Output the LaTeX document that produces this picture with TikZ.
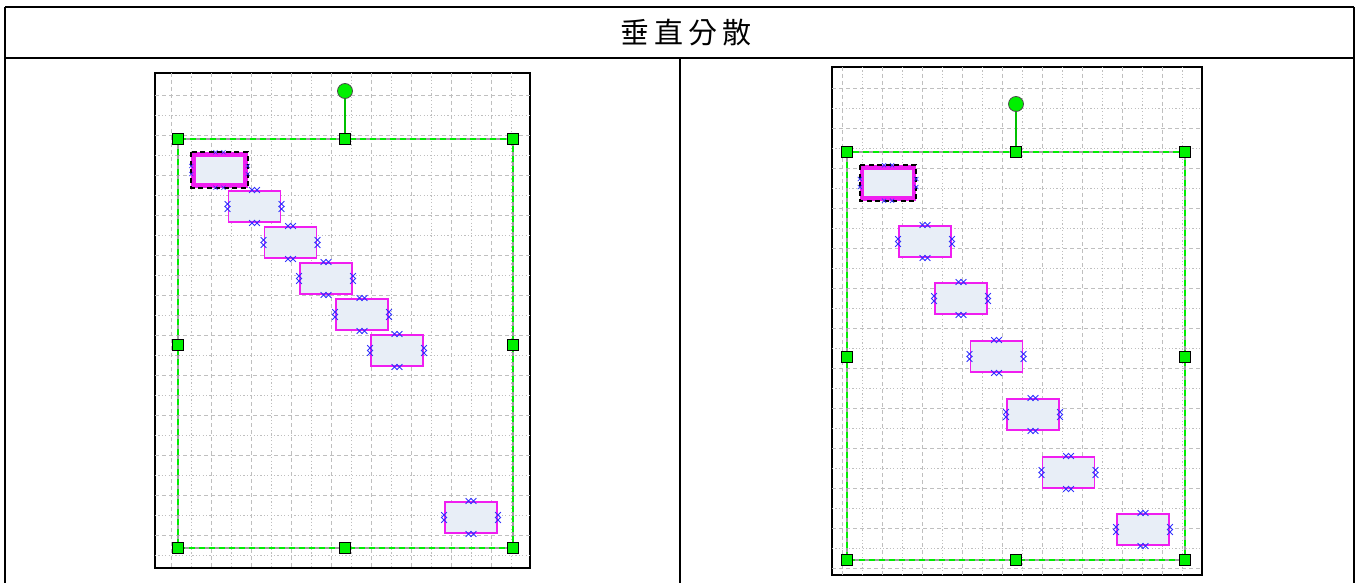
\documentclass[tikz,border=0pt]{standalone}
\usepackage{fontspec}
\newfontfamily\cjk[LetterSpace=18]{Noto Sans CJK TC}
\usetikzlibrary{shapes.misc}
\definecolor{hgreen}{RGB}{0,240,0}
\definecolor{mag}{RGB}{240,30,240}
\definecolor{shfill}{RGB}{232,238,247}
\definecolor{cpblue}{RGB}{50,50,255}
\tikzset{
  frame/.style={line width=2pt, draw=black},
  imgframe/.style={line width=1.6pt, draw=black, fill=white},
  gdash/.style={draw=gray!50, line width=0.9pt, dash pattern=on 4pt off 3pt},
  gdot/.style={draw=gray!50, line width=0.9pt, dash pattern=on 1.2pt off 2.2pt},
  selgray/.style={draw=gray!75, line width=1.2pt},
  selgreen/.style={draw=hgreen, line width=1.2pt, dash pattern=on 6pt off 4pt},
  rotline/.style={draw=hgreen!80!black, line width=1.3pt},
  handle/.style={draw=black, fill=hgreen, line width=1.1pt, minimum size=11pt, inner sep=0pt, rectangle},
  rothandle/.style={draw=black!70, fill=hgreen, line width=0.8pt, minimum size=15pt, inner sep=0pt, circle},
  shp/.style={draw=mag, fill=shfill, line width=1.9pt, minimum width=52pt, minimum height=31pt, inner sep=0pt, rectangle},
  selshp/.style={draw=mag, fill=shfill, line width=4.5pt, minimum width=52pt, minimum height=31pt, inner sep=0pt, rectangle},
  cp/.style={draw=cpblue, cross out, line width=0.8pt, minimum size=5pt, inner sep=0pt},
  cps/.style={draw=cpblue, cross out, line width=0.7pt, minimum size=3.5pt, inner sep=0pt},
}
\newcommand\mybox[3]{%
  \node[shp] (#1) at (#2,#3) {};
  \node[cp] at ([xshift=-2.5pt]#1.north) {};\node[cp] at ([xshift=2.5pt]#1.north) {};
  \node[cp] at ([xshift=-2.5pt]#1.south) {};\node[cp] at ([xshift=2.5pt]#1.south) {};
  \node[cp] at ([yshift=-2.5pt]#1.west) {};\node[cp] at ([yshift=2.5pt]#1.west) {};
  \node[cp] at ([yshift=-2.5pt]#1.east) {};\node[cp] at ([yshift=2.5pt]#1.east) {};
}
\newcommand\myselbox[3]{%
  \node[selshp] (#1) at (#2,#3) {};
  \draw[black, line width=1.8pt, dash pattern=on 5pt off 3.5pt] (#1.north west) rectangle (#1.south east);
  \node[cps] at ([xshift=-4pt]#1.north) {};\node[cps] at ([xshift=4pt]#1.north) {};
  \node[cps] at ([xshift=-4pt]#1.south) {};\node[cps] at ([xshift=4pt]#1.south) {};
  \node[cps] at ([yshift=-4pt]#1.west) {};\node[cps] at ([yshift=4pt]#1.west) {};
  \node[cps] at ([yshift=-4pt]#1.east) {};\node[cps] at ([yshift=4pt]#1.east) {};
}
\begin{document}
\begin{tikzpicture}[x=1pt,y=-1pt]
\useasboundingbox (0,0) rectangle (1358,583);
\fill[white] (0,0) rectangle (1358,583);
% table
\draw[frame] (5,7) -- (1354,7);
\draw[frame] (5,58) -- (1354,58);
\draw[frame] (5,7) -- (5,583);
\draw[frame] (1354,7) -- (1354,583);
\draw[frame] (680,58) -- (680,583);
\node[font=\cjk\fontsize{29pt}{31pt}\selectfont, inner sep=0pt] (title) at (686,33) {垂直分散};

% ---------------- left panel ----------------
\draw[imgframe] (155,73) rectangle (530,568);
\begin{scope}
\clip (155,73) rectangle (530,568);
\foreach \k in {0,...,17} {
  \pgfmathsetmacro\xx{171.7+20*\k}
  \ifodd\k \draw[gdot] (\xx,73) -- (\xx,568); \else \draw[gdash] (\xx,73) -- (\xx,568); \fi
}
\foreach \k in {0,...,23} {
  \pgfmathsetmacro\yy{95+20*\k}
  \ifodd\k \draw[gdot] (155,\yy) -- (530,\yy); \else \draw[gdash] (155,\yy) -- (530,\yy); \fi
}
\end{scope}
\coordinate (Ltl) at (178,139); \coordinate (Ltr) at (513,139);
\coordinate (Lbl) at (178,548); \coordinate (Lbr) at (513,548);
\draw[selgray] (Ltl) rectangle (Lbr);
\draw[selgreen] (Ltl) rectangle (Lbr);
\mybox{L2}{254.5}{206.5}
\mybox{L3}{290.5}{242.5}
\mybox{L4}{326}{278.5}
\mybox{L5}{362}{314.5}
\mybox{L6}{397}{350.5}
\mybox{L7}{471}{517.5}
\myselbox{L1}{219.5}{170}
\node[rothandle] (Lrot) at (345,91) {};
\node[handle] (Ltm) at (345,139) {};
\draw[rotline] (Lrot) -- (Ltm);
\node[handle] (Lh1) at (Ltl) {};
\node[handle] (Lh2) at (Ltr) {};
\node[handle] (Lh3) at (Lbl) {};
\node[handle] (Lh4) at (Lbr) {};
\node[handle] (Lh5) at (178,345) {};
\node[handle] (Lh6) at (513,345) {};
\node[handle] (Lh7) at (345,548) {};

% ---------------- right panel ----------------
\draw[imgframe] (832,67) rectangle (1202,575);
\begin{scope}
\clip (832,67) rectangle (1202,575);
\foreach \k in {0,...,17} {
  \pgfmathsetmacro\xx{842+20*\k}
  \ifodd\k \draw[gdot] (\xx,67) -- (\xx,575); \else \draw[gdash] (\xx,67) -- (\xx,575); \fi
}
\foreach \k in {0,...,24} {
  \pgfmathsetmacro\yy{88+20*\k}
  \ifodd\k \draw[gdot] (832,\yy) -- (1202,\yy); \else \draw[gdash] (832,\yy) -- (1202,\yy); \fi
}
\end{scope}
\coordinate (Rtl) at (847,152); \coordinate (Rtr) at (1185,152);
\coordinate (Rbl) at (847,560); \coordinate (Rbr) at (1185,560);
\draw[selgray] (Rtl) rectangle (Rbr);
\draw[selgreen] (Rtl) rectangle (Rbr);
\mybox{R2}{925}{241.5}
\mybox{R3}{961}{298.5}
\mybox{R4}{996.5}{356.5}
\mybox{R5}{1033}{414.5}
\mybox{R6}{1068.5}{472.5}
\mybox{R7}{1143}{529.5}
\myselbox{R1}{888}{183}
\node[rothandle] (Rrot) at (1016,104) {};
\node[handle] (Rtm) at (1016,152) {};
\draw[rotline] (Rrot) -- (Rtm);
\node[handle] (Rh1) at (Rtl) {};
\node[handle] (Rh2) at (Rtr) {};
\node[handle] (Rh3) at (Rbl) {};
\node[handle] (Rh4) at (Rbr) {};
\node[handle] (Rh5) at (847,357) {};
\node[handle] (Rh6) at (1185,357) {};
\node[handle] (Rh7) at (1016,560) {};
\end{tikzpicture}
\end{document}
